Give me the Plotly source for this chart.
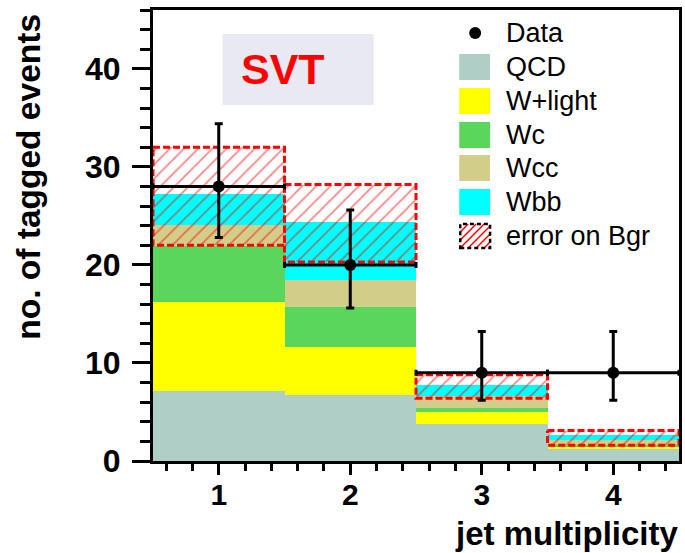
import numpy as np
import plotly.graph_objects as go

# ---------------- data ----------------
jet_mult = [1, 2, 3, 4]
qcd = [7.1, 6.7, 3.8, 1.2]
w_light = [9.1, 4.9, 1.2, 0.3]
wc = [5.7, 4.1, 0.4, 0.15]
wcc = [2.2, 2.8, 1.2, 0.45]
wbb = [3.1, 5.9, 1.2, 0.55]
bgr_err_lo = [22.0, 20.3, 6.4, 1.6]
bgr_err_hi = [32.0, 28.2, 8.8, 3.1]
data = [28, 20, 9, 9]
data_err_up = [6.4, 5.6, 4.2, 4.2]
data_err_dn = [5.2, 4.4, 2.8, 2.8]

components = [
    ("QCD", qcd, "#afcec5"),
    ("W+light", w_light, "#ffff00"),
    ("Wc", wc, "#5ad65a"),
    ("Wcc", wcc, "#d3cd8a"),
    ("Wbb", wbb, "#00ffff"),
]

FONT = "Liberation Sans, Arial, Helvetica, sans-serif"

fig = go.Figure()

base = np.zeros(len(jet_mult))
for name, vals, col in components:
    vals = np.array(vals, dtype=float)
    fig.add_trace(go.Bar(
        x=jet_mult, y=vals, base=base.copy(), width=1.0, name=name,
        marker=dict(color=col, line=dict(width=0)), showlegend=False,
        hoverinfo="skip"))
    base = base + vals

lo = np.array(bgr_err_lo)
hi = np.array(bgr_err_hi)
fig.add_trace(go.Bar(
    x=jet_mult, y=hi - lo, base=lo, width=1.0, name="error on Bgr",
    marker=dict(color="rgba(0,0,0,0)", line=dict(width=0),
                pattern=dict(shape="/", fgcolor="#ff0000", bgcolor="rgba(0,0,0,0)",
                             size=10, solidity=0.16)),
    showlegend=False, hoverinfo="skip"))

# dashed outline of each error rectangle
ox, oy = [], []
for xc, l, h in zip(jet_mult, lo, hi):
    x0, x1 = xc - 0.5, xc + 0.5
    ox += [x0, x1, x1, x0, x0, None]
    oy += [h, h, l, l, h, None]
fig.add_trace(go.Scatter(x=ox, y=oy, mode="lines",
                         line=dict(color="red", width=3, dash="7px,3px"),
                         showlegend=False, hoverinfo="skip"))

fig.add_trace(go.Scatter(
    x=jet_mult, y=data, mode="markers", name="Data",
    marker=dict(color="black", size=12),
    error_y=dict(type="data", symmetric=False, array=data_err_up,
                 arrayminus=data_err_dn, color="black", thickness=3, width=4),
    error_x=dict(type="constant", value=0.5, color="black", thickness=3, width=3),
    showlegend=False))

# ---------------- layout ----------------
L, R, T, B = 153, 3, 10, 92
W, H = 685, 553
PW, PH = W - L - R, H - T - B


def fx(px):
    return (px - L) / PW


def fy(py):
    return (H - B - py) / PH


shapes = []
annotations = []

# SVT label box
shapes.append(dict(type="rect", xref="paper", yref="paper",
                   x0=fx(223), x1=fx(375), y0=fy(105), y1=fy(34),
                   fillcolor="#e9e9f3", line=dict(width=0)))
annotations.append(dict(text="<b>SVT</b>", xref="paper", yref="paper",
                        x=fx(284), y=fy(69), xanchor="center", yanchor="middle",
                        showarrow=False, font=dict(family=FONT, size=43, color="red")))

# manual legend
legend_x0, legend_x1 = 461, 492
text_x = 506
row_y = [33, 67, 101, 135, 168, 202, 236]
# Data entry
shapes.append(dict(type="circle", xref="paper", yref="paper",
                   x0=fx(471), x1=fx(483), y0=fy(row_y[0] + 6), y1=fy(row_y[0] - 6),
                   fillcolor="black", line=dict(width=0)))
labels = ["Data"] + [c[0] for c in components] + ["error on Bgr"]
for (name, vals, col), yc in zip(components, row_y[1:6]):
    shapes.append(dict(type="rect", xref="paper", yref="paper",
                       x0=fx(legend_x0), x1=fx(legend_x1),
                       y0=fy(yc + 13), y1=fy(yc - 13),
                       fillcolor=col, line=dict(width=0)))
# error-on-Bgr legend box with hatch
ey = row_y[6]
bx0, bx1, by0, by1 = 462, 492, ey - 12, ey + 12
path = ""
c = bx0 + by0 + 8
while c < bx1 + by1:
    xa = max(bx0, c - by1)
    xb = min(bx1, c - by0)
    if xb > xa:
        path += f"M{fx(xa)},{fy(c - xa)}L{fx(xb)},{fy(c - xb)}"
    c += 8
shapes.append(dict(type="path", xref="paper", yref="paper", path=path,
                   line=dict(color="#ff0000", width=1.5)))
shapes.append(dict(type="rect", xref="paper", yref="paper",
                   x0=fx(bx0), x1=fx(bx1), y0=fy(by1), y1=fy(by0),
                   line=dict(color="black", width=2.5, dash="4px,3px")))
for lab, yc in zip(labels, row_y):
    annotations.append(dict(text=lab, xref="paper", yref="paper",
                            x=fx(text_x), y=fy(yc), xanchor="left", yanchor="middle",
                            showarrow=False,
                            font=dict(family=FONT, size=27, color="black")))

# axis titles
annotations.append(dict(text="<b>jet multiplicity</b>", xref="paper", yref="paper",
                        x=fx(684), y=fy(533), xanchor="right", yanchor="middle",
                        showarrow=False, font=dict(family=FONT, size=33, color="black")))
annotations.append(dict(text="<b>no. of tagged events</b>", xref="paper", yref="paper",
                        x=fx(28), y=fy(12), xanchor="center", yanchor="top",
                        textangle=-90, showarrow=False,
                        font=dict(family=FONT, size=33.5, color="black")))

fig.update_layout(
    width=W, height=H,
    margin=dict(l=L, r=R, t=T, b=B, pad=0),
    paper_bgcolor="white", plot_bgcolor="white",
    barmode="overlay", bargap=0,
    showlegend=False,
    shapes=shapes, annotations=annotations,
    xaxis=dict(range=[0.5, 4.5], tickvals=jet_mult, ticktext=[str(v) for v in jet_mult],
               ticks="outside", ticklen=11, tickwidth=3, tickcolor="black",
               minor=dict(dtick=0.2, tick0=0, ticks="outside", ticklen=7,
                          tickwidth=3, tickcolor="black"),
               showline=True, linewidth=3, linecolor="black", mirror=True,
               showgrid=False, zeroline=False, ticklabelstandoff=-6,
               tickfont=dict(family=FONT, size=30, color="black", weight="bold")),
    yaxis=dict(range=[0, 46], tickvals=[0, 10, 20, 30, 40],
               ticks="outside", ticklen=18, tickwidth=3, tickcolor="black",
               minor=dict(dtick=2, tick0=0, ticks="outside", ticklen=10,
                          tickwidth=3, tickcolor="black"),
               showline=True, linewidth=3, linecolor="black", mirror=True,
               showgrid=False, zeroline=False, ticklabelstandoff=5,
               tickfont=dict(family=FONT, size=32, color="black", weight="bold")),
)

fig.write_html("out.html")
